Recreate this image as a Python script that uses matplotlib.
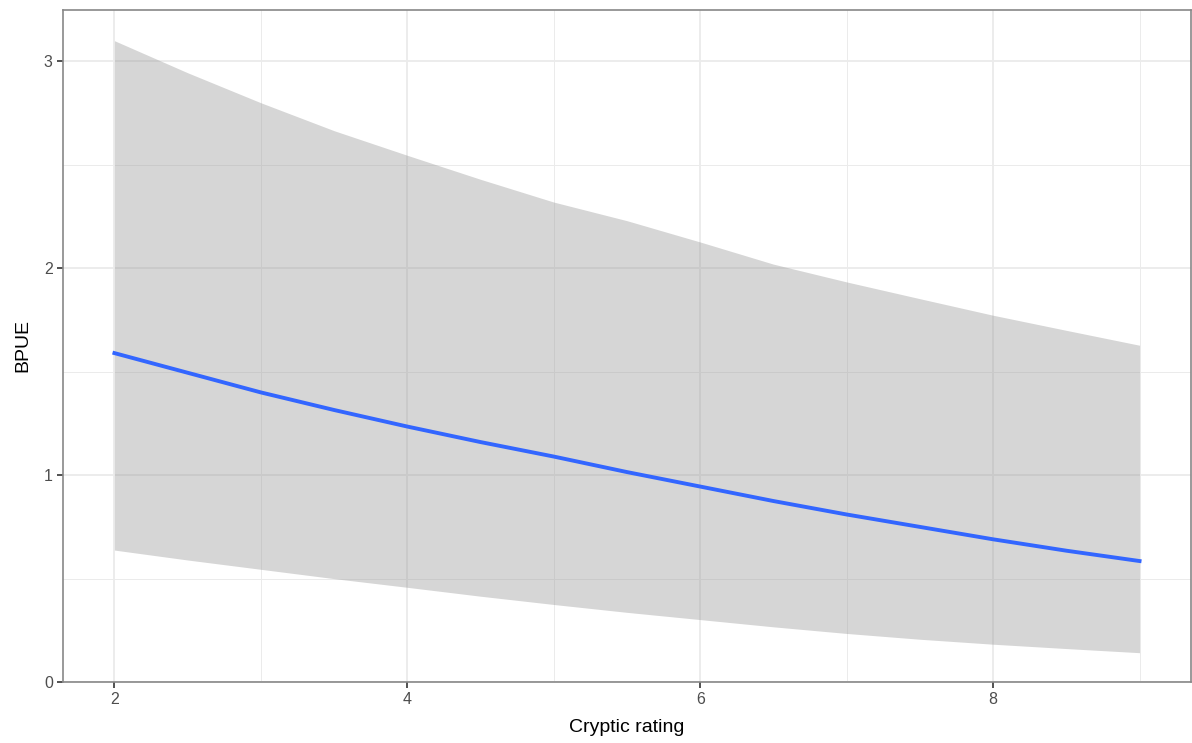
import matplotlib
matplotlib.use("Agg")
from matplotlib import pyplot as plt
from matplotlib.ticker import MultipleLocator

# values
rating = [2.0, 2.5, 3.0, 3.5, 4.0, 4.5, 5.0, 5.5, 6.0, 6.5, 7.0, 7.5, 8.0, 8.5, 9.0]
bpue_fit = [1.59, 1.495, 1.40, 1.315, 1.235, 1.16, 1.09, 1.015, 0.945, 0.875, 0.81, 0.75, 0.69, 0.635, 0.585]
bpue_upper = [3.10, 2.945, 2.80, 2.665, 2.546, 2.43, 2.32, 2.23, 2.127, 2.02, 1.934, 1.853, 1.773, 1.70, 1.628]
bpue_lower = [0.638, 0.59, 0.545, 0.50, 0.458, 0.415, 0.375, 0.337, 0.302, 0.267, 0.235, 0.207, 0.183, 0.162, 0.142]

plt.rcParams['font.family'] = ['Liberation Sans', 'DejaVu Sans']

fig = plt.figure(figsize=(11.92, 7.43), dpi=100)
ax = fig.add_axes([0.053, 0.082, 0.946, 0.905])

ax.fill_between(rating, bpue_lower, bpue_upper, color='#999999', alpha=0.4,
                linewidth=0, zorder=2)
ax.plot(rating, bpue_fit, color='#3366FF', linewidth=2.8, zorder=3)

ax.set_xlim(1.65, 9.35)
ax.set_ylim(0, 3.25)
ax.xaxis.set_major_locator(MultipleLocator(2))
ax.xaxis.set_minor_locator(MultipleLocator(1))
ax.yaxis.set_major_locator(MultipleLocator(1))
ax.yaxis.set_minor_locator(MultipleLocator(0.5))

ax.grid(True, which='major', color='#EBEBEB', linewidth=1.3, zorder=0)
ax.grid(True, which='minor', color='#EBEBEB', linewidth=0.7, zorder=0)
ax.set_axisbelow(True)

for s in ax.spines.values():
    s.set_color('#888888')
    s.set_linewidth(1.2)

ax.tick_params(which='major', length=4.5, width=1.2, color='#333333',
               labelcolor='#4D4D4D', labelsize=11.5, pad=3)
ax.tick_params(which='minor', length=0)

ax.set_xlabel('Cryptic rating', fontsize=14, color='black', labelpad=8)
ax.set_ylabel('BPUE', fontsize=14, color='black', labelpad=9)

fig.savefig('out.png', dpi=100)
